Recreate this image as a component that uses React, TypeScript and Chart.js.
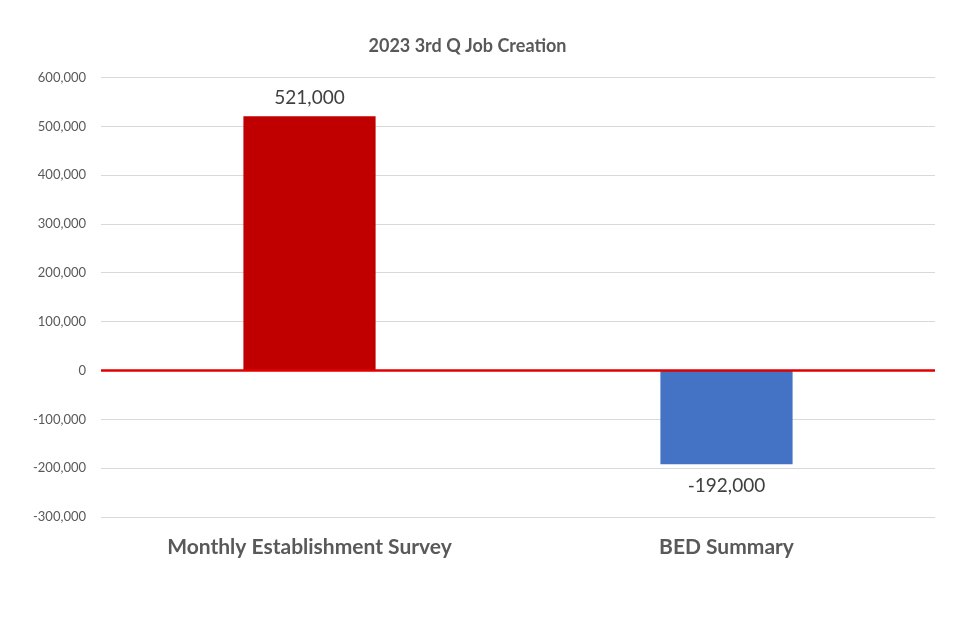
import React, { useEffect, useRef } from "react";
import { Chart, registerables } from "chart.js";

Chart.register(...registerables);

const categories = ["Monthly Establishment Survey", "BED Summary"];
const values = [521000, -192000];
const barColors = ["#C00000", "#4472C4"];
const titleText = "2023 3rd Q Job Creation";

const FONT = "Lato, 'Open Sans', sans-serif";

const fmt = (v: number) => {
  const s = Math.abs(v).toLocaleString("en-US");
  return (v < 0 ? "-" : "") + s;
};

const labelsAndZero = {
  id: "labelsAndZero",
  afterDatasetsDraw(chart: any) {
    const ctx = chart.ctx;
    const y = chart.scales.y;
    const area = chart.chartArea;
    const zy = y.getPixelForValue(0);
    ctx.save();
    ctx.strokeStyle = "#E00000";
    ctx.lineWidth = 2.5;
    ctx.beginPath();
    ctx.moveTo(area.left, zy);
    ctx.lineTo(area.right, zy);
    ctx.stroke();

    const meta = chart.getDatasetMeta(0);
    ctx.font = `19px ${FONT}`;
    ctx.fillStyle = "#404040";
    ctx.textAlign = "center";
    ctx.textBaseline = "middle";
    meta.data.forEach((el: any, i: number) => {
      const v = values[i];
      const py = v >= 0 ? el.y - 18 : el.y + 22;
      ctx.fillText(fmt(v), el.x, py);
    });
    ctx.restore();
  },
};

export default function App() {
  const ref = useRef<HTMLCanvasElement>(null);
  useEffect(() => {
    if (!ref.current) return;
    const chart = new Chart(ref.current, {
      type: "bar",
      data: {
        labels: categories,
        datasets: [
          {
            data: values,
            backgroundColor: barColors,
            categoryPercentage: 1,
            barPercentage: 0.317,
          },
        ],
      },
      plugins: [labelsAndZero],
      options: {
        animation: false,
        responsive: false,
        layout: { padding: { left: 0, right: 45, top: 0, bottom: 0 } },
        plugins: {
          legend: { display: false },
          tooltip: { enabled: false },
          title: {
            display: true,
            text: titleText,
            color: "#595959",
            font: { family: FONT, size: 18, weight: "bold" },
            padding: { top: 35, bottom: 21 },
          },
        },
        scales: {
          x: {
            grid: { display: false, drawTicks: false },
            border: { display: false },
            ticks: {
              color: "#595959",
              font: { family: FONT, size: 21, weight: "bold" },
              padding: 18,
            },
            afterFit: (s: any) => {
              s.height = 112;
            },
          },
          y: {
            min: -300000,
            max: 600000,
            grid: { color: "#D9D9D9", lineWidth: 1, drawTicks: false },
            border: { display: false },
            ticks: {
              stepSize: 100000,
              color: "#595959",
              font: { family: FONT, size: 13 },
              padding: 15,
              callback: (v: any) => fmt(Number(v)),
            },
            afterFit: (s: any) => {
              s.width = 101;
            },
          },
        },
      },
    });
    return () => chart.destroy();
  }, []);
  return (
    <div style={{ position: "fixed", left: 0, top: 0, width: 980, height: 629, background: "#fff" }}>
      <canvas ref={ref} width={980} height={629} style={{ width: 980, height: 629 }} />
    </div>
  );
}
